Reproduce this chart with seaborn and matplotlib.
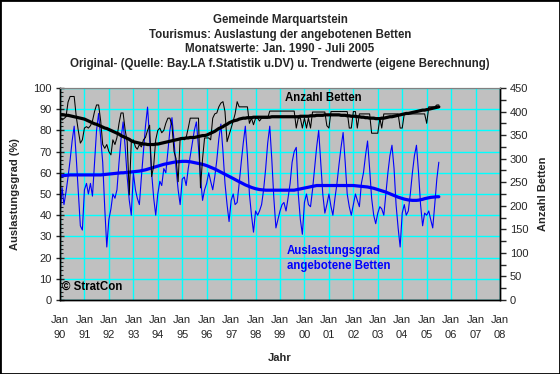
import pandas as pd
import matplotlib
matplotlib.use("Agg")
import matplotlib.pyplot as plt
import matplotlib.dates as mdates
import matplotlib.ticker as mticker
import seaborn as sns
from matplotlib.patches import Rectangle

# Monatswerte Jan. 1990 - Juli 2005
auslastung = [
    40, 53, 45, 51, 58, 66, 75, 82, 67, 51, 35, 33,   # 1990
    52, 55, 50, 55, 49, 65, 80, 88, 76, 65, 43, 25,   # 1991
    38, 43, 50, 48, 52, 65, 76, 84, 72, 58, 47, 40,   # 1992
    60, 52, 48, 45, 58, 70, 82, 91, 76, 60, 48, 40,   # 1993
    50, 56, 54, 62, 60, 70, 80, 86, 75, 62, 52, 45,   # 1994
    57, 58, 54, 62, 68, 74, 80, 84, 72, 58, 47, 52,   # 1995
    55, 60, 56, 52, 58, 66, 76, 83, 70, 55, 45, 37,   # 1996
    47, 50, 45, 46, 55, 65, 74, 82, 68, 50, 40, 32,   # 1997
    42, 40, 42, 45, 52, 62, 74, 82, 66, 48, 34, 38,   # 1998
    42, 45, 46, 42, 48, 55, 65, 70, 72, 50, 38, 31,   # 1999
    46, 50, 45, 44, 52, 62, 72, 80, 65, 50, 41, 45,   # 2000
    50, 44, 40, 48, 55, 64, 72, 79, 65, 50, 44, 40,   # 2001
    45, 50, 47, 44, 55, 60, 68, 75, 62, 48, 40, 36,   # 2002
    41, 44, 43, 40, 50, 60, 68, 73, 62, 45, 34, 25,   # 2003
    41, 45, 40, 42, 50, 60, 68, 73, 60, 45, 35, 41,   # 2004
    40, 42, 38, 34, 45, 57, 65,                       # 2005
]

auslastung_trend = [
    58.5, 58.6, 58.7, 58.8, 58.9, 59.0, 59.0, 59.0, 59.0, 59.0, 59.0, 59.0,
    59.0, 59.0, 59.0, 59.0, 59.0, 59.0, 59.0, 59.0, 59.0, 59.1, 59.2, 59.3,
    59.4, 59.5, 59.6, 59.7, 59.8, 59.9, 60.0, 60.0, 60.1, 60.2, 60.3, 60.4,
    60.5, 60.6, 60.7, 60.8, 61.0, 61.2, 61.4, 61.7, 62.0, 62.3, 62.6, 62.9,
    63.2, 63.5, 63.8, 64.0, 64.2, 64.4, 64.6, 64.8, 65.0, 65.1, 65.2, 65.3,
    65.4, 65.4, 65.4, 65.3, 65.2, 65.0, 64.8, 64.6, 64.4, 64.2, 64.0, 63.7,
    63.4, 63.0, 62.6, 62.2, 61.8, 61.3, 60.8, 60.3, 59.8, 59.3, 58.8, 58.3,
    57.8, 57.3, 56.8, 56.3, 55.8, 55.3, 54.8, 54.3, 53.9, 53.5, 53.1, 52.8,
    52.5, 52.3, 52.1, 52.0, 51.9, 51.8, 51.8, 51.8, 51.8, 51.8, 51.8, 51.8,
    51.8, 51.8, 51.8, 51.8, 51.8, 51.8, 51.8, 51.8, 52.0, 52.2, 52.4, 52.6,
    52.8, 53.0, 53.2, 53.4, 53.6, 53.8, 54.0, 54.0, 54.0, 54.0, 54.0, 54.0,
    54.0, 54.0, 54.0, 54.0, 54.0, 54.0, 54.0, 54.0, 54.0, 54.0, 54.0, 54.0,
    54.0, 53.9, 53.8, 53.7, 53.6, 53.5, 53.4, 53.3, 53.1, 52.9, 52.7, 52.4,
    52.1, 51.8, 51.5, 51.2, 50.9, 50.5, 50.1, 49.7, 49.3, 48.9, 48.5, 48.2,
    47.9, 47.6, 47.4, 47.2, 47.1, 47.0, 47.0, 47.0, 47.1, 47.3, 47.5, 47.8,
    48.0, 48.2, 48.4, 48.5, 48.6, 48.7, 48.7,
]

betten = [
    389, 382, 385, 389, 420, 432, 432, 432, 389, 360, 333, 340,   # 1990
    365, 368, 365, 370, 380, 400, 414, 414, 380, 330, 322, 330,   # 1991
    315, 308, 340, 330, 345, 375, 397, 397, 360, 336, 223, 336,   # 1992
    340, 325, 320, 330, 325, 340, 345, 360, 371, 262, 285, 340,   # 1993
    360, 365, 355, 360, 375, 386, 386, 370, 315, 300, 251, 344,   # 1994
    344, 340, 345, 365, 386, 386, 386, 386, 386, 238, 300, 344,   # 1995
    344, 344, 340, 386, 395, 397, 410, 418, 421, 400, 336, 350,   # 1996
    365, 380, 395, 421, 410, 410, 410, 410, 410, 375, 386, 372,   # 1997
    386, 386, 380, 386, 386, 386, 386, 401, 401, 401, 401, 401,   # 1998
    401, 401, 401, 401, 401, 401, 401, 401, 365, 386, 386, 365,   # 1999
    386, 365, 386, 365, 399, 399, 399, 399, 399, 399, 399, 370,   # 2000
    365, 400, 400, 400, 400, 400, 400, 400, 400, 400, 365, 365,   # 2001
    400, 400, 365, 395, 395, 395, 395, 395, 395, 354, 354, 354,   # 2002
    354, 386, 365, 395, 395, 395, 395, 395, 395, 395, 395, 365,   # 2003
    365, 395, 395, 395, 395, 395, 395, 395, 395, 395, 395, 395,   # 2004
    375, 410, 410, 410, 410, 414, 414,                            # 2005
]

betten_trend = [
    393, 393, 393, 392, 392, 391, 390, 389, 388, 387, 386, 385,
    384, 382, 380, 378, 376, 374, 373, 371, 369, 367, 365, 364,
    362, 360, 358, 356, 354, 352, 349, 347, 345, 343, 341, 338,
    336, 335, 334, 333, 332, 331, 331, 330, 330, 330, 330, 331,
    331, 332, 333, 334, 335, 336, 337, 338, 339, 340, 341, 342,
    343, 343, 344, 344, 345, 345, 345, 346, 347, 348, 349, 349,
    350, 352, 354, 356, 358, 361, 364, 366, 368, 371, 373, 376,
    378, 380, 381, 382, 384, 385, 386, 386, 387, 387, 387, 388,
    388, 388, 388, 388, 388, 388, 388, 388, 389, 389, 389, 389,
    389, 389, 389, 389, 389, 389, 389, 389, 389, 389, 390, 390,
    390, 390, 390, 391, 391, 391, 392, 392, 392, 392, 393, 393,
    393, 393, 393, 393, 393, 393, 392, 392, 392, 391, 391, 390,
    390, 390, 389, 389, 388, 388, 387, 387, 386, 386, 386, 385,
    385, 385, 386, 386, 387, 388, 389, 389, 390, 391, 392, 393,
    394, 395, 396, 396, 397, 398, 399, 400, 401, 402, 403, 403,
    404, 405, 406, 407, 408, 409, 410,
]

monate = pd.date_range("1990-01-01", periods=len(auslastung), freq="MS")

titel = [
    "Gemeinde Marquartstein",
    "Tourismus: Auslastung der angebotenen Betten",
    "Monatswerte: Jan. 1990 - Juli 2005",
    "Original- (Quelle: Bay.LA f.Statistik u.DV) u. Trendwerte (eigene Berechnung)",
]

sns.set_style("white")
plt.rcParams["font.family"] = ["Liberation Sans", "DejaVu Sans"]

W, H = 560, 374
fig = plt.figure(figsize=(W / 100, H / 100), dpi=100)
ax = fig.add_axes([60 / W, 1 - 300 / H, 440 / W, 212 / H])
ax.set_facecolor("#c0c0c0")
ax2 = ax.twinx()

sns.lineplot(x=monate, y=auslastung, ax=ax, color="#0000ff", linewidth=0.8)
sns.lineplot(x=monate, y=auslastung_trend, ax=ax, color="#0000ff", linewidth=2.3)
sns.lineplot(x=monate, y=betten, ax=ax2, color="black", linewidth=0.75)
sns.lineplot(x=monate, y=betten_trend, ax=ax2, color="black", linewidth=2.3)

ax.set_xlim(pd.Timestamp("1990-01-01"), pd.Timestamp("2008-01-01"))
ax.set_ylim(0, 100)
ax2.set_ylim(0, 450)

ax.xaxis.set_major_locator(mdates.YearLocator(1))
ax.xaxis.set_major_formatter(mdates.DateFormatter("Jan\n%y"))
ax.xaxis.set_minor_locator(mdates.MonthLocator())
ax.yaxis.set_major_locator(mticker.MultipleLocator(10))
ax.yaxis.set_minor_locator(mticker.MultipleLocator(2))
ax2.yaxis.set_major_locator(mticker.MultipleLocator(50))
ax2.yaxis.set_minor_locator(mticker.MultipleLocator(25))

ax.grid(True, which="major", color="#00ffff", linewidth=1)
ax.set_axisbelow(True)
ax2.grid(False)

ax.tick_params(axis="x", which="major", direction="inout", length=6, width=1,
               labelsize=8, pad=8)
ax.tick_params(axis="x", which="minor", direction="in", length=2, width=0.8)
ax.tick_params(axis="y", which="major", direction="inout", length=6, width=1,
               labelsize=8, pad=3, left=True)
ax.tick_params(axis="y", which="minor", direction="in", length=2, width=0.8, left=True)
ax2.tick_params(axis="y", which="major", direction="out", length=4, width=1,
                labelsize=8, pad=3, right=True)
ax2.tick_params(axis="y", which="minor", direction="out", length=4, width=1, right=True)
for lbl in ax.get_xticklabels():
    lbl.set_linespacing(1.6)

for a in (ax, ax2):
    for side in ("left", "bottom", "right"):
        a.spines[side].set_color("black")
        a.spines[side].set_linewidth(1)
    a.spines["top"].set_color("#808080")
    a.set_xlabel("")
    a.set_ylabel("")

ax.set_xlabel("Jahr", fontsize=8, fontweight="bold")
ax.xaxis.set_label_coords(0.5, (300 - 353) / 212)
ax.set_ylabel("Auslastungsgrad (%)", fontsize=8, fontweight="bold")
ax.yaxis.set_label_coords((20 - 60) / 440, 0.5)
ax2.set_ylabel("Anzahl Betten", fontsize=8, fontweight="bold", rotation=90)
ax2.yaxis.set_label_coords((538 - 60) / 440, 0.5)

ax2.text(0.511, 0.953, "Anzahl Betten", transform=ax2.transAxes, fontsize=8.3,
         fontweight="bold", color="black", ha="left", va="center")
ax2.text(0.516, 0.196, "Auslastungsgrad\nangebotene Betten", transform=ax2.transAxes,
         fontsize=8.3, fontweight="bold", color="#0000ff", ha="left", va="center",
         linespacing=1.25)
ax2.text(0.004, 0.062, "© StratCon", transform=ax2.transAxes, fontsize=8.3,
         fontweight="bold", color="black", ha="left", va="center")

for i, zeile in enumerate(titel):
    fig.text(0.5, 1 - (20 + 14.7 * i) / H, zeile, ha="center", va="center",
             fontsize=8.3, fontweight="bold")

fig.add_artist(Rectangle((0, 0), 1, 1, transform=fig.transFigure, fill=False,
                         edgecolor="black", linewidth=2))

fig.savefig("out.png", dpi=100)
